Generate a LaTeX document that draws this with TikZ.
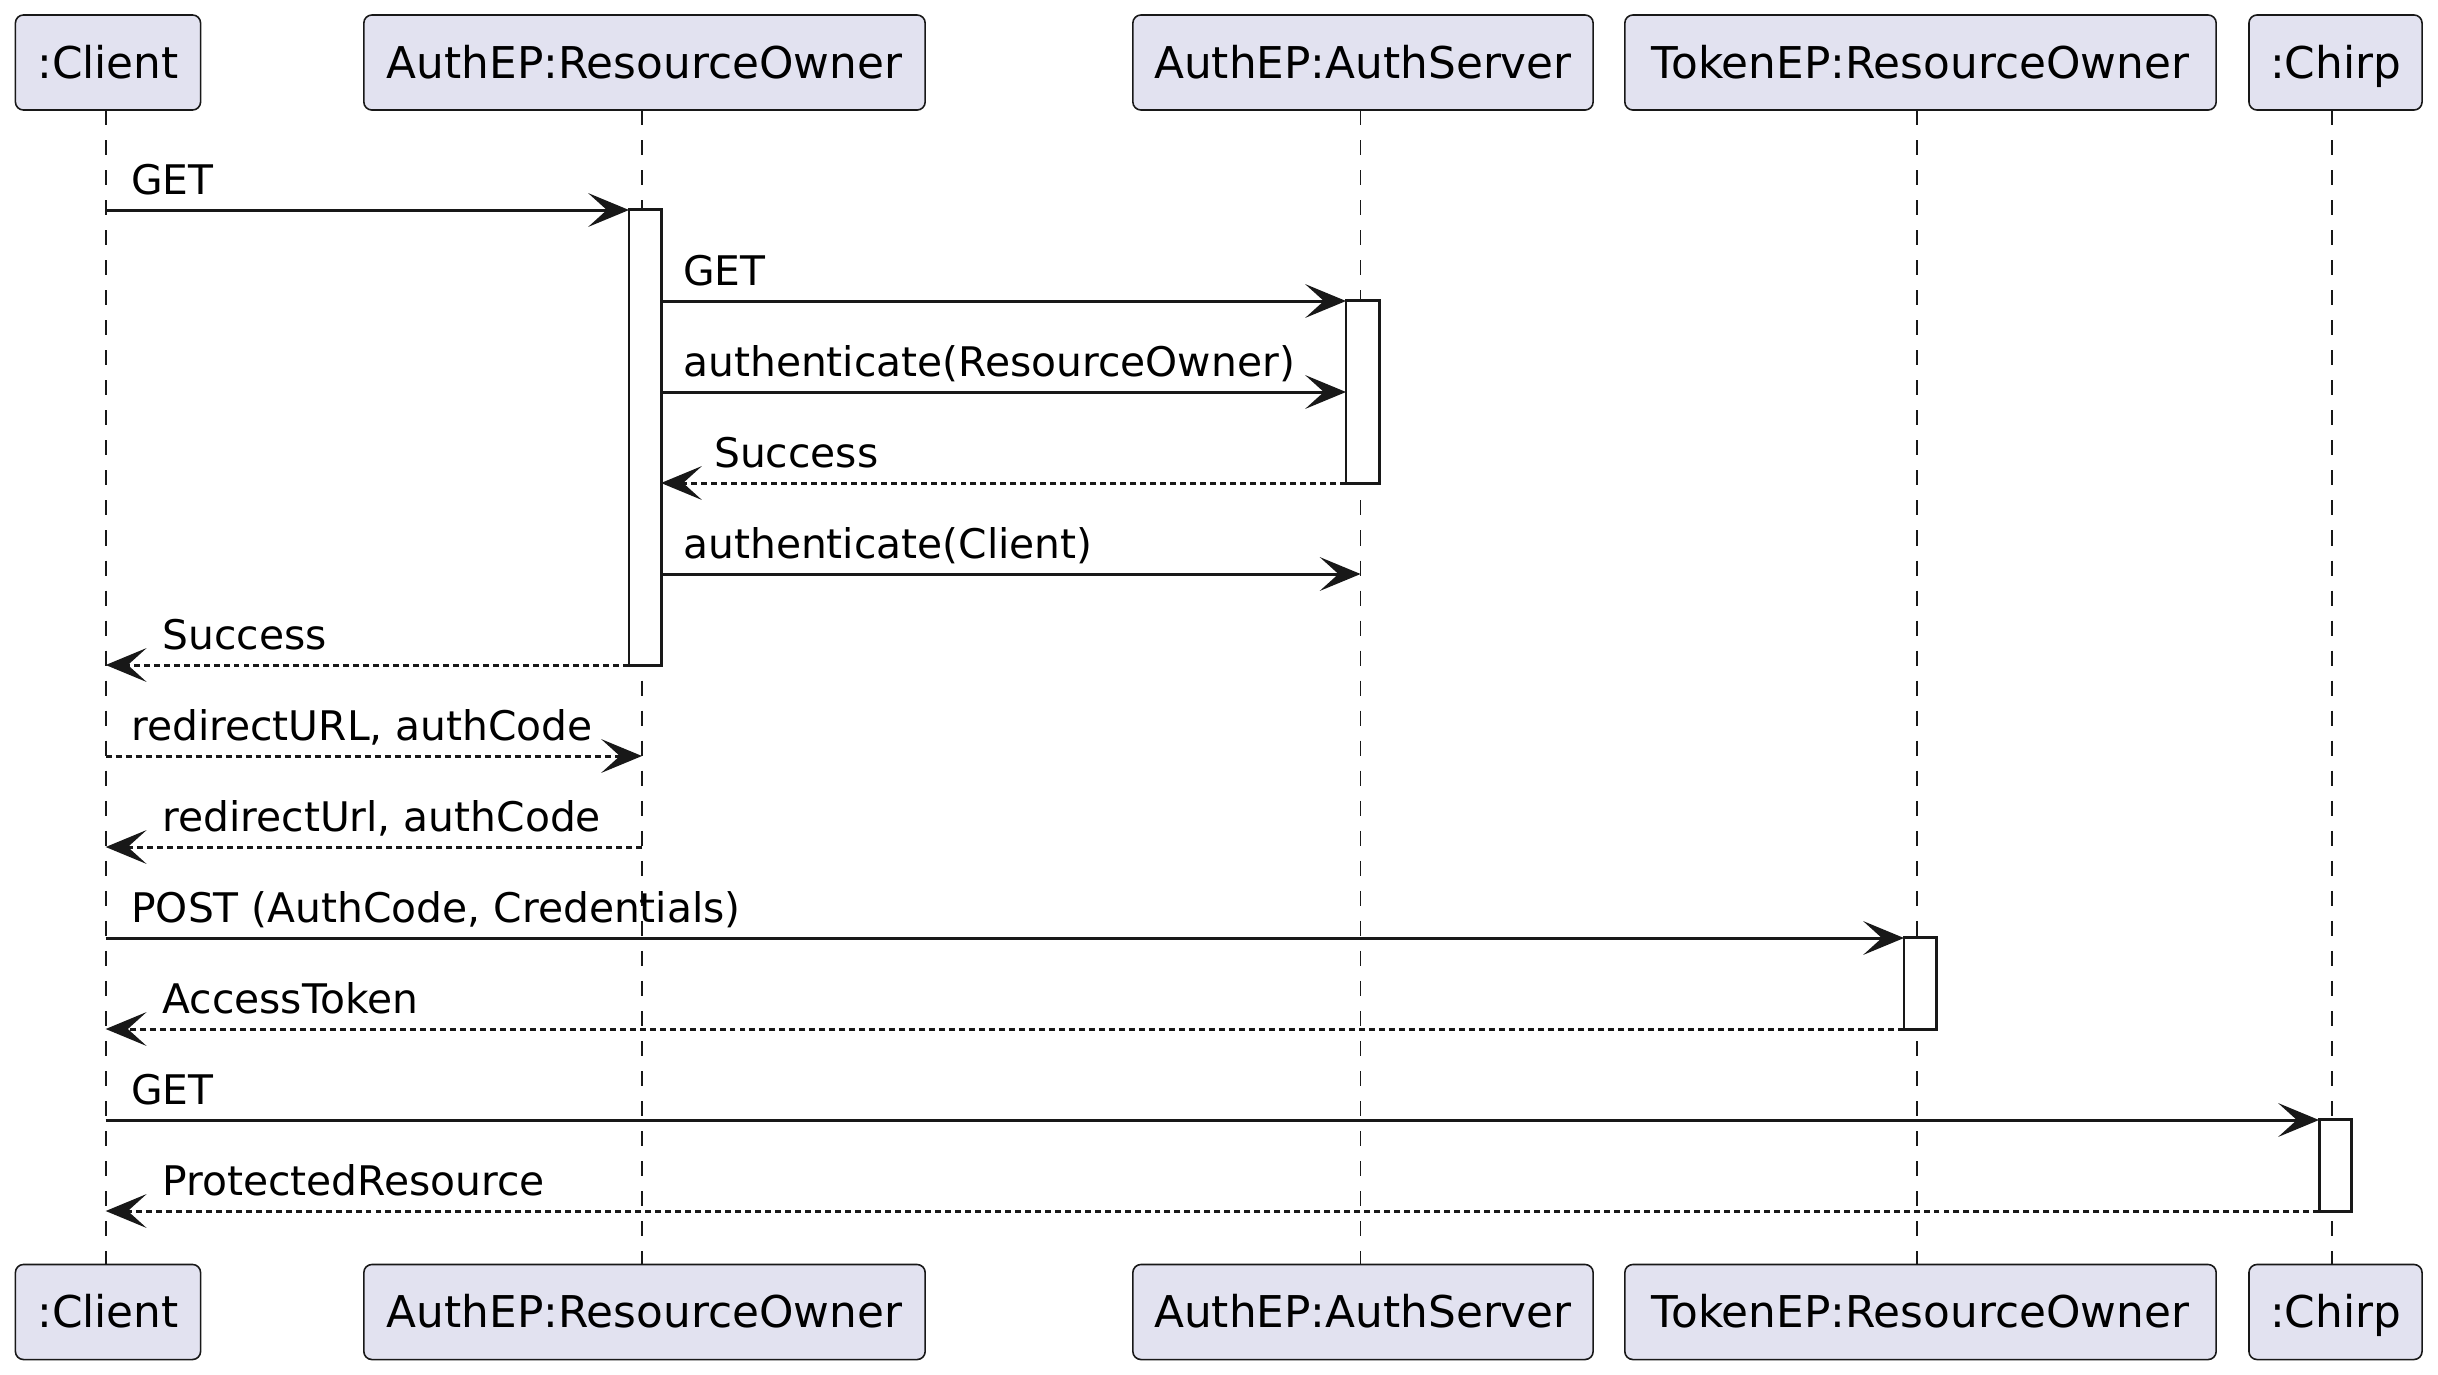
\documentclass[tikz,border=0pt]{standalone}
\usepackage{fontspec}
\setmainfont{DejaVu Sans}
\usetikzlibrary{arrows.meta}
\definecolor{boxfill}{HTML}{E2E2F0}
\definecolor{ink}{HTML}{181818}
\begin{document}
\begin{tikzpicture}[x=0.01cm,y=-0.01cm,
  part/.style={draw=ink, fill=boxfill, line width=0.45pt, rounded corners=2.3pt,
    inner sep=0pt, outer sep=0pt, minimum height=0.95cm, text height=9.04pt, text depth=0pt,
    font=\fontsize{12.45}{15}\selectfont, text=black},
  actbox/.style={draw=ink, fill=white, line width=0.85pt, inner sep=0pt, outer sep=0pt},
  life/.style={draw=ink, line width=0.5pt, dash pattern=on 4.27pt off 4.27pt},
  msg/.style={draw=ink, line width=0.85pt, -{Stealth[length=11.6pt,width=9.6pt,inset=5.3pt]}},
  ret/.style={msg, dash pattern=on 1.7pt off 1.14pt},
  lab/.style={anchor=base west, inner sep=0pt, font=\fontsize{11.6}{14}\selectfont, text=black}]
\fill[white] (0,0) rectangle (2438,1375);
\useasboundingbox (0,0) rectangle (2438,1375);

% lifeline x positions
\coordinate (LC) at (105.7,0);
\coordinate (LRO) at (642,0);
\coordinate (LAS) at (1360.6,0);
\coordinate (LTE) at (1917,0);
\coordinate (LCh) at (2332,0);

% participants top
\node[part, minimum width=1.851cm] (pC)  at (108,62.5) {:Client};
\node[part, minimum width=5.61cm]  (pRO) at (644.5,62.5) {AuthEP:ResourceOwner};
\node[part, minimum width=4.60cm]  (pAS) at (1363,62.5) {AuthEP:AuthServer};
\node[part, minimum width=5.91cm]  (pTE) at (1920.5,62.5) {TokenEP:ResourceOwner};
\node[part, minimum width=1.73cm]  (pCh) at (2335.5,62.5) {:Chirp};
% participants bottom
\node[part, minimum width=1.851cm] (qC)  at (108,1312) {:Client};
\node[part, minimum width=5.61cm]  (qRO) at (644.5,1312) {AuthEP:ResourceOwner};
\node[part, minimum width=4.60cm]  (qAS) at (1363,1312) {AuthEP:AuthServer};
\node[part, minimum width=5.91cm]  (qTE) at (1920.5,1312) {TokenEP:ResourceOwner};
\node[part, minimum width=1.73cm]  (qCh) at (2335.5,1312) {:Chirp};

% lifelines
\draw[life] (LC |- pC.south) -- (LC |- qC.north);
\draw[life] (LRO |- pRO.south) -- (LRO |- qRO.north);
\draw[life] (LAS |- pAS.south) -- (LAS |- qAS.north);
\draw[life] (LTE |- pTE.south) -- (LTE |- qTE.north);
\draw[life] (LCh |- pCh.south) -- (LCh |- qCh.north);

% rows
\coordinate (r1) at (0,210);
\coordinate (r2) at (0,301);
\coordinate (r3) at (0,392);
\coordinate (r4) at (0,483);
\coordinate (r5) at (0,574);
\coordinate (r6) at (0,665);
\coordinate (r7) at (0,756);
\coordinate (r8) at (0,847);
\coordinate (r9) at (0,938);
\coordinate (r10) at (0,1029);
\coordinate (r11) at (0,1120);
\coordinate (r12) at (0,1211);

% activation boxes
\node[actbox, minimum width=0.32cm, minimum height=4.55cm] (aRO) at (645,437.5) {};
\node[actbox, minimum width=0.33cm, minimum height=1.82cm] (aAS) at (1362.5,392) {};
\node[actbox, minimum width=0.32cm, minimum height=0.91cm] (aTE) at (1920,983.5) {};
\node[actbox, minimum width=0.32cm, minimum height=0.91cm] (aCh) at (2335,1165.5) {};

% messages
\draw[msg] (LC |- r1) -- (aRO.west |- r1);
\node[lab] (t1) at (130.6,194) {GET};

\draw[msg] (aRO.east |- r2) -- (aAS.west |- r2);
\node[lab] (t2) at (682.6,285) {GET};

\draw[msg] (aRO.east |- r3) -- (aAS.west |- r3);
\node[lab] (t3) at (682.6,376) {authenticate(ResourceOwner)};

\draw[ret] (aAS.west |- r4) -- (aRO.east |- r4);
\node[lab] (t4) at (713.5,467) {Success};

\draw[msg] (aRO.east |- r5) -- (LAS |- r5);
\node[lab] (t5) at (682.6,558) {authenticate(Client)};

\draw[ret] (aRO.west |- r6) -- (LC |- r6);
\node[lab] (t6) at (161.7,649) {Success};

\draw[ret] (LC |- r7) -- (LRO |- r7);
\node[lab] (t7) at (130.6,740) {redirectURL, authCode};

\draw[ret] (LRO |- r8) -- (LC |- r8);
\node[lab] (t8) at (161.7,831) {redirectUrl, authCode};

\draw[msg] (LC |- r9) -- (aTE.west |- r9);
\node[lab] (t9) at (130.6,922) {POST (AuthCode, Credentials)};

\draw[ret] (aTE.west |- r10) -- (LC |- r10);
\node[lab] (t10) at (161.7,1013) {AccessToken};

\draw[msg] (LC |- r11) -- (aCh.west |- r11);
\node[lab] (t11) at (130.6,1104) {GET};

\draw[ret] (aCh.west |- r12) -- (LC |- r12);
\node[lab] (t12) at (161.7,1195) {ProtectedResource};
\end{tikzpicture}
\end{document}
